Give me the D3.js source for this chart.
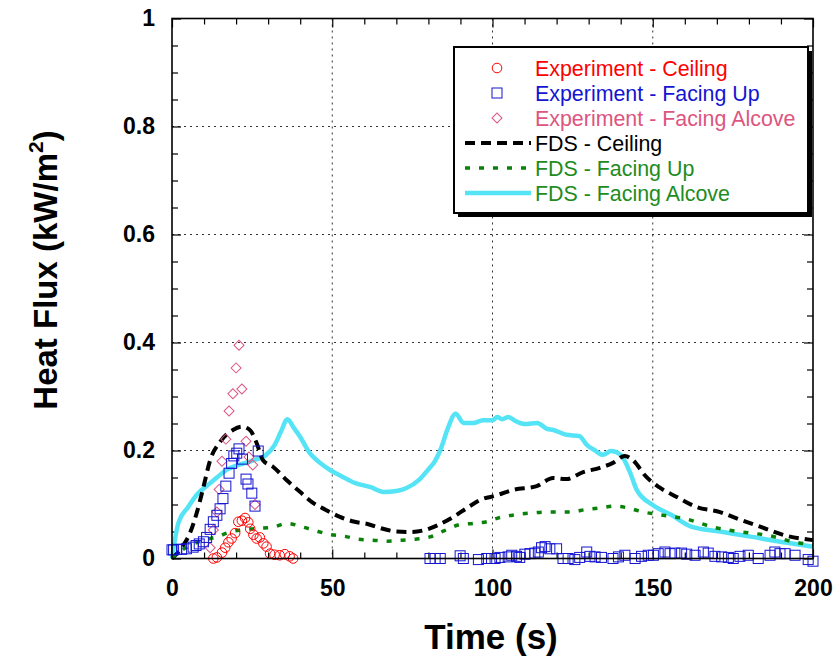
<!DOCTYPE html>
<html><head><meta charset="utf-8">
<script src="https://cdn.jsdelivr.net/npm/d3@7"></script>
<style>body{margin:0;background:#fff}svg{display:block}</style>
</head><body>
<svg id="chart" width="835" height="660"></svg>
<script>
// ---- data ----
const xTicks = [0, 50, 100, 150, 200];
const yTicks = [0, 0.2, 0.4, 0.6, 0.8, 1];
const yTickLabels = ["0", "0.2", "0.4", "0.6", "0.8", "1"];

const expCeilT = [12.9,14,15.6,16.6,17.6,18.6,19.7,20.7,21.8,22.8,23.8,24.4,25.4,26.4,27.4,28.5,29.5,30.6,32,33.6,35.2,36.7,37.8];
const expCeilV = [0,0.002,0.011,0.02,0.03,0.037,0.047,0.068,0.07,0.075,0.067,0.055,0.044,0.037,0.039,0.028,0.022,0.009,0.007,0.006,0.008,0.004,0.0];

const expUpT = [0,0.5,1.5,3,4.5,6.6,7.5,8.5,9.8,10.8,11.9,12.9,14,15,15.9,16.8,17.8,18.6,19.3,20.2,20.9,22,23.1,23.7,24.9,25.9,26.9,
  80.5,82.1,83.7,89.9,90.9,95.6,98.2,99.7,100.8,102.3,104.9,106,107.5,108.5,110.1,111.7,113.2,114.3,115.3,116.4,117.9,120,122,123.6,125.7,127.2,129.4,130.4,132,134,137.6,139.3,141.3,144.5,146.5,148.6,150.2,151.7,153.8,155.4,156.9,159,160.6,163.2,165.8,167.3,169.4,171.5,173.6,175.1,177.2,179.8,182.9,186.6,188.1,189.7,191.3,194.4,198.5,200];
const expUpV = [0.016,0.016,0.017,0.017,0.018,0.021,0.024,0.027,0.031,0.039,0.054,0.068,0.08,0.092,0.111,0.134,0.158,0.176,0.19,0.195,0.203,0.184,0.147,0.138,0.121,0.097,0.199,
  0,0,0,0.005,0,-0.002,0,0,0,0.002,0.003,0.006,0.004,0.002,0.008,0.009,0.01,0.012,0.02,0.022,0.018,0.018,0,0,-0.002,0.002,0.012,0.004,0.003,0.002,0,0.003,0.006,0,0.004,0.006,0.006,0.009,0.012,0.009,0.01,0.01,0.008,0.006,0.012,0.01,0.004,0.003,0.002,0,0.004,0.006,0,0.006,0.012,0.009,0.009,0.006,-0.002,-0.005];

const expAlcT = [11.9,12.9,14,14.7,15.6,16.8,17.8,19,20,20.9,21.8,23.1,24,25.2,25.9];
const expAlcV = [0.02,0.053,0.086,0.128,0.18,0.221,0.273,0.305,0.353,0.395,0.314,0.217,0.188,0.173,0.1];

const fdsCeilT = [0,3,5.6,7.7,9.8,11.9,15,19,21.8,24.3,26.4,28.4,31.5,35.8,40,44,48,52.4,57,61,65.8,70,74.3,78.4,83,87.8,92.4,96,101.4,106.4,113.8,118.9,123,128.3,133.5,137.6,141.3,143.8,148,152,157.5,163.8,171,175,183.5,191.8,200];
const fdsCeilV = [0,0.02,0.047,0.084,0.132,0.182,0.216,0.238,0.244,0.238,0.214,0.182,0.17,0.145,0.123,0.103,0.09,0.077,0.068,0.064,0.055,0.05,0.049,0.052,0.062,0.077,0.095,0.108,0.117,0.127,0.134,0.149,0.147,0.16,0.168,0.177,0.19,0.182,0.151,0.132,0.114,0.095,0.086,0.077,0.059,0.042,0.034];

const fdsUpT = [0,3,6,9.8,14,18,22.8,27.5,31.5,35.8,41,45,49.8,54,58,62.7,67.3,71.8,76.4,80.5,84.8,89.3,94,98.2,102.3,107,111.7,116.4,124.2,129.4,134,138,142,147,151,160.6,168.8,178,186.6,193.8,200];
const fdsUpV = [0,0.015,0.025,0.034,0.04,0.049,0.054,0.056,0.058,0.065,0.058,0.051,0.044,0.041,0.036,0.034,0.032,0.034,0.036,0.04,0.051,0.062,0.065,0.068,0.076,0.081,0.084,0.086,0.086,0.091,0.094,0.097,0.094,0.086,0.082,0.073,0.058,0.049,0.042,0.031,0.025];

const fdsAlcT = [0,2,5,8,11,14,17,20,23,26,29,32,34,36,38,40,43,46,49,53,57,62,66,70,73,77,80,82,84,86,88.5,91,94,97,100,101.5,103,105,107,110,114,117,119,123,127,129.5,132,134.5,137,140,143,145,150,156,162,171,181,192,200];
const fdsAlcV = [0,0.066,0.095,0.12,0.135,0.15,0.164,0.172,0.177,0.183,0.19,0.21,0.235,0.258,0.242,0.225,0.195,0.178,0.165,0.152,0.14,0.132,0.123,0.125,0.13,0.145,0.165,0.18,0.205,0.24,0.268,0.251,0.251,0.256,0.256,0.262,0.258,0.262,0.255,0.249,0.251,0.24,0.238,0.229,0.227,0.21,0.2,0.192,0.199,0.192,0.158,0.127,0.099,0.08,0.059,0.05,0.04,0.029,0.022];

const legendLabels = ["Experiment - Ceiling","Experiment - Facing Up","Experiment - Facing Alcove","FDS - Ceiling","FDS - Facing Up","FDS - Facing Alcove"];

// ---- drawing ----
const C = {red:"#ff0000", blue:"#1414d2", pink:"#dd5580", green:"#0a820a", greenText:"#1e8c1e", cyan:"#55e4f6"};
const svg = d3.select("#chart");
const L = 172, R = 813, T = 18.5, B = 558.5;
const x = d3.scaleLinear().domain([0,200]).range([L,R]);
const y = d3.scaleLinear().domain([0,1]).range([B,T]);
const font = "'Liberation Sans', Arial, Helvetica, sans-serif";

// grid
const grid = svg.append("g").attr("stroke","#333").attr("stroke-width",1).attr("stroke-dasharray","2,4");
grid.selectAll("line.gx").data(xTicks.slice(1,-1)).join("line")
  .attr("x1",d=>x(d)).attr("x2",d=>x(d)).attr("y1",T).attr("y2",B);
grid.selectAll("line.gy").data(yTicks.slice(1,-1)).join("line")
  .attr("y1",d=>y(d)).attr("y2",d=>y(d)).attr("x1",L).attr("x2",R);

// ticks (inward) on all four sides
const xMinor = d3.range(0,201,10).filter(v=>v%50!==0);
const yMinor = d3.range(0,1.0001,0.05).map(v=>+v.toFixed(2)).filter(v=>Math.abs(v*5-Math.round(v*5))>1e-6);
function tickAxis(axisFn, scale, vals, size, tr){
  const g = svg.append("g").attr("transform",tr).call(axisFn(scale).tickValues(vals).tickSize(size).tickFormat(""));
  g.select(".domain").remove();
  g.selectAll("line").attr("stroke","#000").attr("stroke-width",1.2);
  return g;
}
tickAxis(d3.axisBottom, x, xMinor, -6, `translate(0,${B})`);
tickAxis(d3.axisTop, x, xMinor, -6, `translate(0,${T})`);
tickAxis(d3.axisLeft, y, yMinor, -6, `translate(${L},0)`);
tickAxis(d3.axisRight, y, yMinor, -6, `translate(${R},0)`);
tickAxis(d3.axisBottom, x, xTicks, -9, `translate(0,${B})`);
tickAxis(d3.axisTop, x, xTicks, -9, `translate(0,${T})`);
tickAxis(d3.axisLeft, y, yTicks, -9, `translate(${L},0)`);
tickAxis(d3.axisRight, y, yTicks, -9, `translate(${R},0)`);

// tick labels
const gx = svg.append("g").attr("transform",`translate(0,${B})`)
  .call(d3.axisBottom(x).tickValues(xTicks).tickSize(0).tickPadding(21.5).tickFormat(d3.format("d")));
gx.select(".domain").remove();
gx.selectAll("text").attr("font-family",font).attr("font-weight","bold").attr("font-size",23).attr("fill","#000");
const gy = svg.append("g").attr("transform",`translate(${L},0)`)
  .call(d3.axisLeft(y).tickValues(yTicks).tickSize(0).tickPadding(17).tickFormat((d,i)=>yTickLabels[i]));
gy.select(".domain").remove();
gy.selectAll("text").attr("font-family",font).attr("font-weight","bold").attr("font-size",23).attr("fill","#000");

// lines
const zip = (ts,vs)=>ts.map((t,i)=>[t,vs[i]]);
const line = d3.line().x(d=>x(d[0])).y(d=>y(d[1])).curve(d3.curveMonotoneX);
svg.append("path").datum(zip(fdsAlcT,fdsAlcV)).attr("d",line).attr("fill","none")
  .attr("stroke",C.cyan).attr("stroke-width",4.5).attr("stroke-linejoin","round");
svg.append("path").datum(zip(fdsCeilT,fdsCeilV)).attr("d",line).attr("fill","none")
  .attr("stroke","#000").attr("stroke-width",4).attr("stroke-dasharray","10,6");
svg.append("path").datum(zip(fdsUpT,fdsUpV)).attr("d",line).attr("fill","none")
  .attr("stroke",C.green).attr("stroke-width",3.5).attr("stroke-dasharray","5,9");

// markers
const sym = (type,size)=>d3.symbol().type(type).size(size)();
svg.append("g").selectAll("path").data(zip(expAlcT,expAlcV)).join("path")
  .attr("transform",d=>`translate(${x(d[0])},${y(d[1])}) rotate(45)`)
  .attr("d",sym(d3.symbolSquare,50)).attr("fill","none").attr("stroke",C.pink).attr("stroke-width",1);
svg.append("g").selectAll("rect").data(zip(expUpT,expUpV)).join("rect")
  .attr("x",d=>x(d[0])-5).attr("y",d=>y(d[1])-5).attr("width",10).attr("height",10)
  .attr("fill","none").attr("stroke",C.blue).attr("stroke-width",1);
svg.append("g").selectAll("circle").data(zip(expCeilT,expCeilV)).join("circle")
  .attr("cx",d=>x(d[0])).attr("cy",d=>y(d[1])).attr("r",4.8)
  .attr("fill","none").attr("stroke",C.red).attr("stroke-width",1);

// frame
svg.append("rect").attr("x",L).attr("y",T).attr("width",R-L).attr("height",B-T)
  .attr("fill","none").attr("stroke","#000").attr("stroke-width",1.6);

// legend
const lg = svg.append("g");
const bx=454, by=47, bw=354, bh=166;
lg.append("rect").attr("x",bx+4).attr("y",by+4).attr("width",bw).attr("height",bh).attr("fill","#000");
lg.append("rect").attr("x",bx).attr("y",by).attr("width",bw).attr("height",bh).attr("fill","#fff").attr("stroke","#000").attr("stroke-width",2);
const rowY = i => 68 + i*25;
const textColors = [C.red, C.blue, C.pink, "#000", C.greenText, C.greenText];
legendLabels.forEach((lab,i)=>{
  lg.append("text").attr("x",535).attr("y",rowY(i)).attr("dy","0.36em")
    .attr("font-family",font).attr("font-size",21.4).attr("fill",textColors[i]).text(lab);
});
lg.append("circle").attr("cx",497).attr("cy",rowY(0)).attr("r",4.8).attr("fill","none").attr("stroke",C.red);
lg.append("rect").attr("x",492).attr("y",rowY(1)-5).attr("width",10).attr("height",10).attr("fill","none").attr("stroke",C.blue);
lg.append("path").attr("transform",`translate(497,${rowY(2)}) rotate(45)`).attr("d",sym(d3.symbolSquare,50)).attr("fill","none").attr("stroke",C.pink);
lg.append("line").attr("x1",465).attr("x2",531).attr("y1",rowY(3)).attr("y2",rowY(3)).attr("stroke","#000").attr("stroke-width",4).attr("stroke-dasharray","10,6");
lg.append("line").attr("x1",465).attr("x2",531).attr("y1",rowY(4)).attr("y2",rowY(4)).attr("stroke",C.green).attr("stroke-width",3.5).attr("stroke-dasharray","5,9");
lg.append("line").attr("x1",465).attr("x2",531).attr("y1",rowY(5)).attr("y2",rowY(5)).attr("stroke",C.cyan).attr("stroke-width",4.5);

// axis titles
svg.append("text").attr("x",491).attr("y",649).attr("text-anchor","middle")
  .attr("font-family",font).attr("font-weight","bold").attr("font-size",35).attr("fill","#000").text("Time (s)");
const yt = svg.append("text").attr("transform","translate(57,270) rotate(-90)").attr("text-anchor","middle")
  .attr("font-family",font).attr("font-weight","bold").attr("font-size",33).attr("fill","#000");
yt.append("tspan").text("Heat Flux (kW/m");
yt.append("tspan").attr("font-size",21).attr("dy",-14).text("2");
yt.append("tspan").attr("dy",14).text(")");
</script>
</body></html>
